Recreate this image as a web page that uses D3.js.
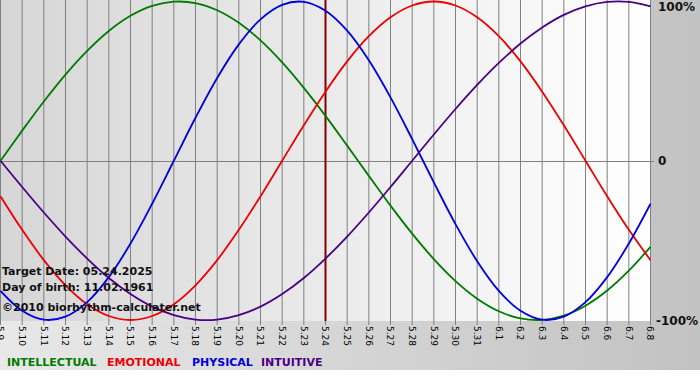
<!DOCTYPE html>
<html>
<head>
<meta charset="utf-8">
<script src="https://cdn.jsdelivr.net/npm/d3@7"></script>
<style>
  body { margin: 0; background: #fff; }
  svg { display: block; font-family: "DejaVu Sans", Verdana, sans-serif; }
</style>
</head>
<body>
<svg id="chart" width="700" height="380"></svg>
<script>
const days = ["5.9", "5.10", "5.11", "5.12", "5.13", "5.14", "5.15", "5.16", "5.17", "5.18",
  "5.19", "5.20", "5.21", "5.22", "5.23", "5.24", "5.25", "5.26", "5.27", "5.28",
  "5.29", "5.30", "5.31", "6.1", "6.2", "6.3", "6.4", "6.5", "6.6", "6.7", "6.8"];

// values, -1 .. 1
const physical = [-0.817, -0.942, -0.998, -0.979, -0.888, -0.731, -0.520, -0.270, 0, 0.270,
  0.520, 0.731, 0.888, 0.979, 0.998, 0.942, 0.817, 0.631, 0.398, 0.136,
  -0.136, -0.398, -0.631, -0.817, -0.942, -0.998, -0.979, -0.888, -0.731, -0.520, -0.270];
const emotional = [-0.223, -0.434, -0.624, -0.782, -0.901, -0.975, -1, -0.975, -0.901, -0.782,
  -0.624, -0.434, -0.223, 0, 0.223, 0.434, 0.624, 0.782, 0.901, 0.975,
  1, 0.975, 0.901, 0.782, 0.624, 0.434, 0.223, 0, -0.223, -0.434, -0.624];
const intellectual = [0, 0.189, 0.372, 0.541, 0.690, 0.815, 0.910, 0.972, 0.999, 0.990,
  0.945, 0.866, 0.756, 0.618, 0.458, 0.282, 0.095, -0.095, -0.282, -0.458,
  -0.618, -0.756, -0.866, -0.945, -0.990, -0.999, -0.972, -0.910, -0.815, -0.690, -0.541];
const intuitive = [0, -0.165, -0.325, -0.476, -0.614, -0.736, -0.837, -0.916, -0.969, -0.997,
  -0.997, -0.969, -0.916, -0.837, -0.736, -0.614, -0.476, -0.325, -0.165, 0,
  0.165, 0.325, 0.476, 0.614, 0.736, 0.837, 0.916, 0.969, 0.997, 0.997, 0.969];

const targetDay = "5.24";
const yTicks = [1, 0, -1];
const yTickLabels = ["100%", "0", "-100%"];

const series = [
  { name: "INTELLECTUAL", values: intellectual, color: "#007a00" },
  { name: "EMOTIONAL", values: emotional, color: "#ee0000" },
  { name: "PHYSICAL", values: physical, color: "#0000dd" },
  { name: "INTUITIVE", values: intuitive, color: "#4b0082" }
];

const svg = d3.select("#chart");
const plotW = 651, plotH = 321;

const defs = svg.append("defs");
const bgGrad = defs.append("linearGradient").attr("id", "bg");
bgGrad.append("stop").attr("offset", "0%").attr("stop-color", "#e8e8e8");
bgGrad.append("stop").attr("offset", "100%").attr("stop-color", "#c2c2c2");
const plotGrad = defs.append("linearGradient").attr("id", "plotbg");
plotGrad.append("stop").attr("offset", "0%").attr("stop-color", "#d6d6d6");
plotGrad.append("stop").attr("offset", "100%").attr("stop-color", "#ffffff");

svg.append("rect").attr("width", 700).attr("height", 370).attr("fill", "url(#bg)");
svg.append("rect").attr("width", plotW).attr("height", plotH).attr("fill", "url(#plotbg)");

const x = d3.scalePoint().domain(days).range([0.5, 650.5]);
const y = d3.scaleLinear().domain([-1, 1]).range([320, 1.5]);

// vertical grid + ticks
const grid = svg.append("g");
grid.selectAll("line.v")
  .data(days)
  .join("line")
  .attr("class", "v")
  .attr("x1", d => x(d)).attr("x2", d => x(d))
  .attr("y1", 0).attr("y2", plotH + 4)
  .attr("stroke", "#808080").attr("stroke-width", 1);

grid.append("line")
  .attr("x1", 0).attr("x2", plotW + 3)
  .attr("y1", Math.round(y(0)) + 0.5).attr("y2", Math.round(y(0)) + 0.5)
  .attr("stroke", "#808080");

// x labels, rotated
svg.append("g").selectAll("text")
  .data(days)
  .join("text")
  .attr("transform", d => `translate(${x(d)},${plotH + 5}) rotate(90)`)
  .attr("dy", "0.35em")
  .attr("font-size", 9)
  .attr("fill", "#000")
  .text(d => d);

// y labels
svg.append("g").selectAll("text")
  .data(yTicks)
  .join("text")
  .attr("x", (d, i) => i === 2 ? 656 : 658)
  .attr("y", d => Math.max(y(d), 6))
  .attr("dy", "0.38em")
  .attr("font-size", 12)
  .attr("font-weight", "bold")
  .attr("fill", "#111")
  .text((d, i) => yTickLabels[i]);

// target day line
svg.append("line")
  .attr("x1", x(targetDay)).attr("x2", x(targetDay))
  .attr("y1", 0).attr("y2", plotH)
  .attr("stroke", "#800000").attr("stroke-width", 2);

const line = d3.line()
  .x((d, i) => x(days[i]))
  .y(d => y(d))
  .curve(d3.curveCatmullRom);

svg.append("g").selectAll("path")
  .data(series)
  .join("path")
  .attr("d", s => line(s.values))
  .attr("fill", "none")
  .attr("stroke", s => s.color)
  .attr("stroke-width", 1.8);

// info text
const info = ["Target Date: 05.24.2025", "Day of birth: 11.02.1961", "\u00a92010 biorhythm-calculater.net"];
svg.append("g").selectAll("text")
  .data(info)
  .join("text")
  .attr("x", 2)
  .attr("y", (d, i) => [275, 291, 311][i])
  .attr("font-size", 11)
  .attr("font-weight", "bold")
  .attr("fill", "#111")
  .text(d => d);

// legend
const legendX = [7, 107, 192, 261];
svg.append("g").selectAll("text")
  .data(series)
  .join("text")
  .attr("x", (d, i) => legendX[i])
  .attr("y", 366)
  .attr("font-size", 11)
  .attr("font-weight", "bold")
  .attr("fill", s => s.color)
  .text(s => s.name);
</script>
</body>
</html>
